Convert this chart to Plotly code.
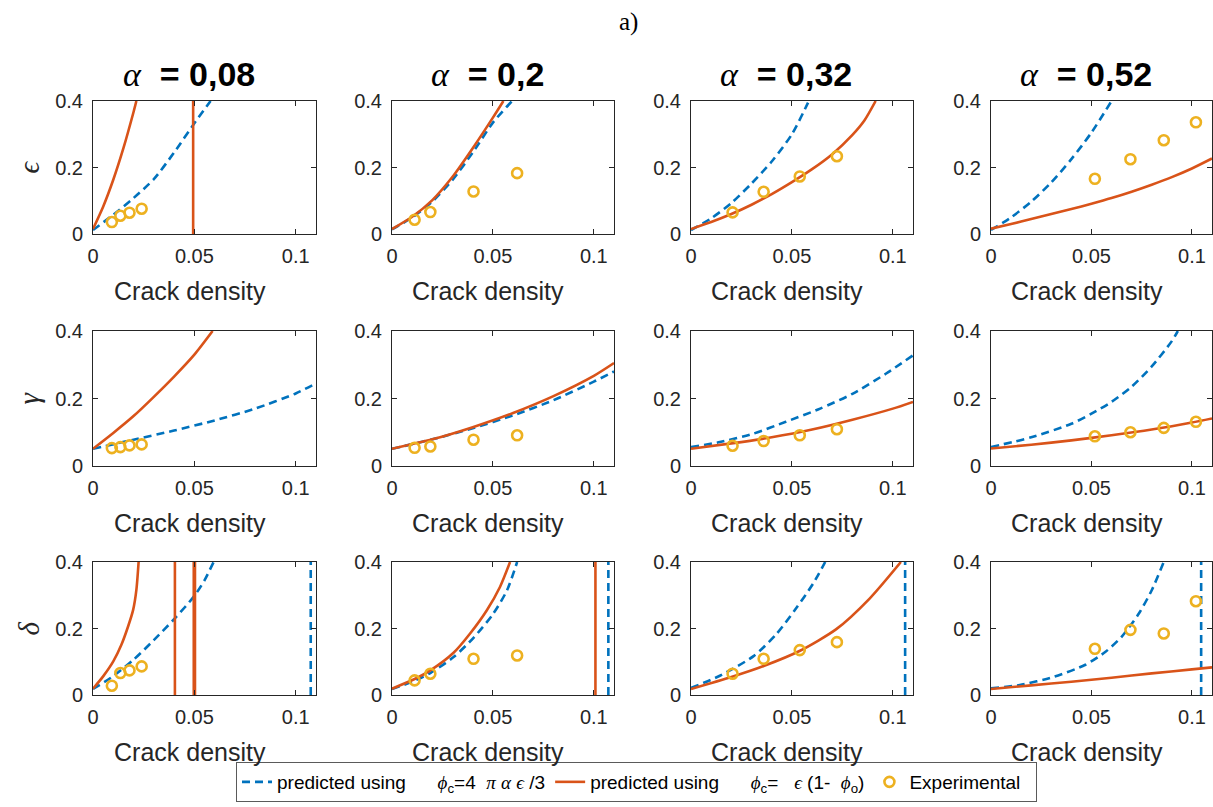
import plotly.graph_objects as go

# ---------------------------------------------------------------- data
ALPHA_LABELS = ["0,08", "0,2", "0,32", "0,52"]
ROW_LABELS = ["ϵ", "γ", "δ"]
X_TICKS = [0, 0.05, 0.1]
X_TICK_TEXT = ["0", "0.05", "0.1"]
Y_TICKS = [0, 0.2, 0.4]
Y_TICK_TEXT = ["0", "0.2", "0.4"]

# measured crack densities, one list per aspect ratio
CD_A008 = [0.0093, 0.0135, 0.018, 0.024]
CD_A02 = [0.0112, 0.019, 0.0404, 0.062]
CD_A032 = [0.0206, 0.036, 0.0539, 0.0723]
CD_A052 = [0.0517, 0.0694, 0.086, 0.102]

# experimental anisotropy parameters
EPS_EXP_A008 = [0.036, 0.055, 0.064, 0.076]
EPS_EXP_A02 = [0.043, 0.066, 0.128, 0.183]
EPS_EXP_A032 = [0.065, 0.127, 0.173, 0.234]
EPS_EXP_A052 = [0.166, 0.225, 0.282, 0.336]

GAM_EXP_A008 = [0.053, 0.056, 0.061, 0.064]
GAM_EXP_A02 = [0.054, 0.058, 0.078, 0.091]
GAM_EXP_A032 = [0.060, 0.074, 0.091, 0.109]
GAM_EXP_A052 = [0.088, 0.100, 0.113, 0.131]

DEL_EXP_A008 = [0.028, 0.066, 0.074, 0.086]
DEL_EXP_A02 = [0.044, 0.064, 0.109, 0.119]
DEL_EXP_A032 = [0.064, 0.109, 0.135, 0.159]
DEL_EXP_A052 = [0.139, 0.196, 0.185, 0.282]

# model 1: phi_c = 4 pi alpha eps / 3   (None separates branches)
EPS_PC1_A008_X = [0, 0.01, 0.02, 0.03, 0.04, 0.05, 0.058]
EPS_PC1_A008_Y = [0.012, 0.058, 0.108, 0.165, 0.245, 0.333, 0.4]
EPS_PC1_A02_X = [0, 0.01, 0.02, 0.03, 0.04, 0.05, 0.0595]
EPS_PC1_A02_Y = [0.014, 0.05, 0.098, 0.163, 0.245, 0.335, 0.4]
EPS_PC1_A032_X = [0, 0.01, 0.02, 0.03, 0.04, 0.05, 0.058]
EPS_PC1_A032_Y = [0.012, 0.047, 0.093, 0.152, 0.218, 0.3, 0.395]
EPS_PC1_A052_X = [0, 0.01, 0.02, 0.03, 0.04, 0.05, 0.06]
EPS_PC1_A052_Y = [0.012, 0.05, 0.097, 0.155, 0.225, 0.305, 0.4]

GAM_PC1_A008_X = [0, 0.02, 0.04, 0.06, 0.08, 0.1, 0.11]
GAM_PC1_A008_Y = [0.051, 0.078, 0.105, 0.135, 0.17, 0.215, 0.245]
GAM_PC1_A02_X = [0, 0.02, 0.04, 0.06, 0.08, 0.1, 0.11]
GAM_PC1_A02_Y = [0.051, 0.079, 0.112, 0.15, 0.195, 0.25, 0.28]
GAM_PC1_A032_X = [0, 0.0143, 0.031, 0.047, 0.064, 0.08, 0.0967, 0.11]
GAM_PC1_A032_Y = [0.056, 0.071, 0.096, 0.131, 0.17, 0.214, 0.274, 0.328]
GAM_PC1_A052_X = [0, 0.02, 0.04, 0.05, 0.06, 0.07, 0.08, 0.09, 0.093]
GAM_PC1_A052_Y = [0.056, 0.085, 0.125, 0.155, 0.19, 0.235, 0.295, 0.37, 0.4]

DEL_PC1_A008_X = [0, 0.01, 0.02, 0.03, 0.04, 0.05, 0.055, 0.0595, None, 0.1074, 0.1074]
DEL_PC1_A008_Y = [0.018, 0.057, 0.106, 0.165, 0.228, 0.298, 0.345, 0.4, None, 0, 0.4]
DEL_PC1_A02_X = [0, 0.01, 0.019, 0.0305, 0.0404, 0.05, 0.057, 0.062, None, 0.1072, 0.1072]
DEL_PC1_A02_Y = [0.018, 0.04, 0.066, 0.114, 0.172, 0.243, 0.315, 0.4, None, 0, 0.4]
DEL_PC1_A032_X = [0, 0.0143, 0.031, 0.0423, 0.052, 0.0605, 0.0665, None, 0.1061, 0.1061]
DEL_PC1_A032_Y = [0.021, 0.058, 0.117, 0.183, 0.26, 0.335, 0.4, None, 0, 0.4]
DEL_PC1_A052_X = [0, 0.0143, 0.031, 0.047, 0.057, 0.065, 0.0736, 0.08, 0.086, None, 0.1046, 0.1046]
DEL_PC1_A052_Y = [0.02, 0.03, 0.054, 0.091, 0.13, 0.175, 0.245, 0.315, 0.4, None, 0, 0.4]

# model 2: phi_c = eps (1 - phi_o)
EPS_PC2_A008_X = [0, 0.005, 0.01, 0.015, 0.02, 0.0214, None, 0.0494, 0.0494]
EPS_PC2_A008_Y = [0.015, 0.082, 0.163, 0.258, 0.367, 0.4, None, 0, 0.4]
EPS_PC2_A02_X = [0, 0.01, 0.02, 0.03, 0.04, 0.05, 0.0552]
EPS_PC2_A02_Y = [0.015, 0.052, 0.102, 0.172, 0.258, 0.35, 0.4]
EPS_PC2_A032_X = [0, 0.01, 0.02, 0.03, 0.04, 0.05, 0.06, 0.07, 0.08, 0.086, 0.0915]
EPS_PC2_A032_Y = [0.015, 0.036, 0.06, 0.088, 0.12, 0.156, 0.195, 0.24, 0.298, 0.342, 0.4]
EPS_PC2_A052_X = [0, 0.01, 0.02, 0.03, 0.04, 0.05, 0.06, 0.07, 0.08, 0.09, 0.1, 0.11]
EPS_PC2_A052_Y = [0.016, 0.03, 0.045, 0.06, 0.075, 0.091, 0.108, 0.127, 0.148, 0.171, 0.197, 0.227]

GAM_PC2_A008_X = [0, 0.01, 0.02, 0.03, 0.04, 0.05, 0.059]
GAM_PC2_A008_Y = [0.051, 0.098, 0.148, 0.205, 0.265, 0.33, 0.4]
GAM_PC2_A02_X = [0, 0.02, 0.04, 0.06, 0.08, 0.1, 0.11]
GAM_PC2_A02_Y = [0.051, 0.079, 0.115, 0.157, 0.207, 0.267, 0.305]
GAM_PC2_A032_X = [0, 0.02, 0.04, 0.06, 0.08, 0.1, 0.11]
GAM_PC2_A032_Y = [0.051, 0.067, 0.085, 0.108, 0.137, 0.17, 0.19]
GAM_PC2_A052_X = [0, 0.02, 0.04, 0.06, 0.08, 0.1, 0.11]
GAM_PC2_A052_Y = [0.052, 0.063, 0.076, 0.091, 0.108, 0.129, 0.141]

DEL_PC2_A008_X = [0, 0.005, 0.01, 0.014, 0.0173, 0.0198, 0.0214, 0.0225,
                  None, 0.0404, 0.0404, None, 0.0497, 0.0497, None, 0.0503, 0.0503]
DEL_PC2_A008_Y = [0.019, 0.056, 0.101, 0.151, 0.206, 0.256, 0.316, 0.4,
                  None, 0, 0.4, None, 0, 0.4, None, 0, 0.4]
DEL_PC2_A02_X = [0, 0.0112, 0.019, 0.0305, 0.0387, 0.047, 0.0535, 0.0585, None, 0.1008, 0.1008]
DEL_PC2_A02_Y = [0.019, 0.048, 0.074, 0.127, 0.185, 0.255, 0.325, 0.4, None, 0, 0.4]
DEL_PC2_A032_X = [0, 0.02, 0.036, 0.054, 0.072, 0.0885, 0.104]
DEL_PC2_A032_Y = [0.018, 0.054, 0.087, 0.133, 0.198, 0.29, 0.4]
DEL_PC2_A052_X = [0, 0.02, 0.04, 0.06, 0.08, 0.1, 0.11]
DEL_PC2_A052_Y = [0.018, 0.029, 0.04, 0.052, 0.065, 0.077, 0.083]

# ---------------------------------------------------------------- assembly
CD = [CD_A008, CD_A02, CD_A032, CD_A052]
EXP = [
    [EPS_EXP_A008, EPS_EXP_A02, EPS_EXP_A032, EPS_EXP_A052],
    [GAM_EXP_A008, GAM_EXP_A02, GAM_EXP_A032, GAM_EXP_A052],
    [DEL_EXP_A008, DEL_EXP_A02, DEL_EXP_A032, DEL_EXP_A052],
]
PC1 = [
    [(EPS_PC1_A008_X, EPS_PC1_A008_Y), (EPS_PC1_A02_X, EPS_PC1_A02_Y),
     (EPS_PC1_A032_X, EPS_PC1_A032_Y), (EPS_PC1_A052_X, EPS_PC1_A052_Y)],
    [(GAM_PC1_A008_X, GAM_PC1_A008_Y), (GAM_PC1_A02_X, GAM_PC1_A02_Y),
     (GAM_PC1_A032_X, GAM_PC1_A032_Y), (GAM_PC1_A052_X, GAM_PC1_A052_Y)],
    [(DEL_PC1_A008_X, DEL_PC1_A008_Y), (DEL_PC1_A02_X, DEL_PC1_A02_Y),
     (DEL_PC1_A032_X, DEL_PC1_A032_Y), (DEL_PC1_A052_X, DEL_PC1_A052_Y)],
]
PC2 = [
    [(EPS_PC2_A008_X, EPS_PC2_A008_Y), (EPS_PC2_A02_X, EPS_PC2_A02_Y),
     (EPS_PC2_A032_X, EPS_PC2_A032_Y), (EPS_PC2_A052_X, EPS_PC2_A052_Y)],
    [(GAM_PC2_A008_X, GAM_PC2_A008_Y), (GAM_PC2_A02_X, GAM_PC2_A02_Y),
     (GAM_PC2_A032_X, GAM_PC2_A032_Y), (GAM_PC2_A052_X, GAM_PC2_A052_Y)],
    [(DEL_PC2_A008_X, DEL_PC2_A008_Y), (DEL_PC2_A02_X, DEL_PC2_A02_Y),
     (DEL_PC2_A032_X, DEL_PC2_A032_Y), (DEL_PC2_A052_X, DEL_PC2_A052_Y)],
]

# ---------------------------------------------------------------- style / layout
W, H = 1213, 807
BLUE, ORANGE, YELLOW, INK = "#0072BD", "#D95319", "#EDB120", "#262626"
SANS = "Liberation Sans, Arial, sans-serif"
SERIF = "Liberation Serif, DejaVu Serif, serif"
NB = "\u00a0"

COL_L = [93, 392, 691, 991]
COL_R = [316, 614, 913, 1212]
ROW_T = [101, 331, 562]
ROW_B = [234, 466, 695]

def gk(s):
    return f"<span style='font-family:{SERIF}'><i>{s}</i></span>"

NAME_PC1 = ("predicted using" + NB * 6 + gk("ϕ") + "<sub>c</sub>=4" + NB * 2
            + gk("π") + NB + gk("α") + NB + gk("ϵ") + NB + "/3")
NAME_PC2 = ("predicted using" + NB * 6 + gk("ϕ") + "<sub>c</sub>=" + NB * 3
            + gk("ϵ") + NB + "(1-" + NB * 2 + gk("ϕ") + "<sub>o</sub>)")
NAME_EXP = "Experimental" + NB * 2

fig = go.Figure()
layout = dict(
    width=W, height=H, autosize=False,
    margin=dict(l=0, r=0, t=0, b=0),
    paper_bgcolor="white", plot_bgcolor="white",
    showlegend=True,
    legend=dict(
        orientation="h", x=236 / W, xanchor="left", y=1 - 762 / H, yanchor="top",
        bordercolor="#5a5a5a", borderwidth=1, bgcolor="white",
        font=dict(family=SANS, size=19, color="black"),
        traceorder="normal", itemwidth=30,
    ),
)
annotations = []

for r in range(3):
    for c in range(4):
        i = r * 4 + c + 1
        xa, ya = f"x{i}", f"y{i}"
        first = (i == 1)
        x1, y1 = PC1[r][c]
        x2, y2 = PC2[r][c]
        fig.add_trace(go.Scatter(
            x=x1, y=y1, mode="lines", xaxis=xa, yaxis=ya, name=NAME_PC1,
            line=dict(color=BLUE, width=2.6, dash="8px,5px", shape="spline", smoothing=0.7),
            showlegend=first, legendgroup="pc1", hoverinfo="skip"))
        fig.add_trace(go.Scatter(
            x=x2, y=y2, mode="lines", xaxis=xa, yaxis=ya, name=NAME_PC2,
            line=dict(color=ORANGE, width=2.6, shape="spline", smoothing=0.7),
            showlegend=first, legendgroup="pc2", hoverinfo="skip"))
        fig.add_trace(go.Scatter(
            x=CD[c], y=EXP[r][c], mode="markers", xaxis=xa, yaxis=ya, name=NAME_EXP,
            marker=dict(symbol="circle-open", size=10, color=YELLOW, line=dict(width=2.6, color=YELLOW)),
            showlegend=first, legendgroup="exp", cliponaxis=False, hoverinfo="skip"))

        axis_common = dict(
            showline=True, linecolor=INK, linewidth=1, mirror="ticks",
            ticks="inside", ticklen=5, tickcolor=INK, tickwidth=1,
            showgrid=False, zeroline=False,
            tickfont=dict(family=SANS, size=20, color=INK),
            automargin=False, fixedrange=True,
        )
        key = "" if i == 1 else str(i)
        layout["xaxis" + key] = dict(
            axis_common, domain=[COL_L[c] / W, COL_R[c] / W], anchor=ya,
            range=[0, 0.11], tickvals=X_TICKS, ticktext=X_TICK_TEXT, ticklabelstandoff=4)
        layout["yaxis" + key] = dict(
            axis_common, domain=[1 - ROW_B[r] / H, 1 - ROW_T[r] / H], anchor=xa,
            range=[0, 0.4], tickvals=Y_TICKS, ticktext=Y_TICK_TEXT, ticklabelstandoff=5)

        xc = (COL_L[c] + COL_R[c]) / 2
        annotations.append(dict(
            text="Crack density", x=xc / W, y=1 - (ROW_B[r] + 57) / H,
            xref="paper", yref="paper", xanchor="center", yanchor="middle",
            xshift=-15, showarrow=False, font=dict(family=SANS, size=25, color=INK)))

    annotations.append(dict(
        text=f"<i>{ROW_LABELS[r]}</i>", x=28 / W, y=1 - (ROW_T[r] + ROW_B[r]) / 2 / H,
        xref="paper", yref="paper", xanchor="center", yanchor="middle", textangle=-90,
        showarrow=False, font=dict(family=SERIF, size=29, color=INK)))

for c in range(4):
    xc = (COL_L[c] + COL_R[c]) / 2
    annotations.append(dict(
        text=gk("α") + NB * 2 + "<b>= " + ALPHA_LABELS[c] + "</b>", x=xc / W, y=1 - 74 / H,
        xref="paper", yref="paper", xanchor="center", yanchor="middle", xshift=-16,
        showarrow=False, font=dict(family=SANS, size=34, color="black")))

annotations.append(dict(
    text="a)", x=628 / W, y=1 - 22 / H, xref="paper", yref="paper",
    xanchor="center", yanchor="middle", showarrow=False,
    font=dict(family=SERIF, size=25, color="black")))

layout["annotations"] = annotations
fig.update_layout(**layout)
fig.write_html("out.html")
